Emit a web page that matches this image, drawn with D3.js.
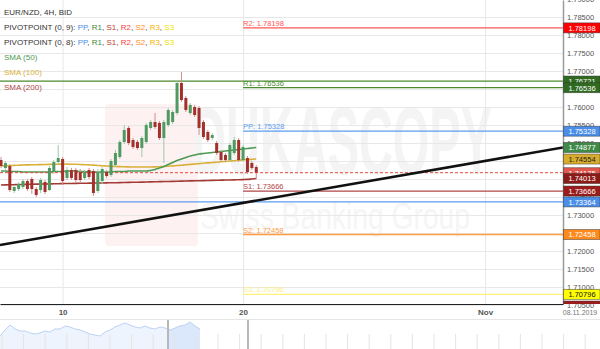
<!DOCTYPE html>
<html>
<head>
<meta charset="utf-8">
<script src="https://cdn.jsdelivr.net/npm/d3@7"></script>
<style>
  body { margin: 0; background: #fff; }
  svg { display: block; font-family: "Liberation Sans", Arial, sans-serif; }
</style>
</head>
<body>
<div id="chart"></div>
<script>
// EUR/NZD 4H candles (index 0 = first visible candle)
const opens  = [1.74528,1.74306,1.74361,1.73667,1.73722,1.73778,1.73944,1.74000,1.73722,1.73694,1.73917,1.73694,1.74194,1.74472,1.74556,1.74028,1.74250,1.74250,1.74194,1.74028,1.74250,1.74222,1.73667,1.73944,1.74194,1.74111,1.74389,1.74611,1.75028,1.75417,1.75083,1.75028,1.74861,1.75028,1.75417,1.75583,1.75556,1.75139,1.75500,1.75583,1.75833,1.76667,1.76250,1.75833,1.76000,1.75972,1.75583,1.75306,1.75139,1.75000,1.74750,1.74667,1.74528,1.74722,1.75083,1.74528,1.74583,1.74444,1.74333];
const highs  = [1.74611,1.74500,1.74417,1.73833,1.73917,1.74000,1.74000,1.74056,1.73778,1.74028,1.73972,1.74361,1.74528,1.74944,1.74611,1.74333,1.74306,1.74306,1.74278,1.74250,1.74306,1.74278,1.74278,1.74333,1.74250,1.74556,1.74806,1.75083,1.75500,1.75472,1.75139,1.75083,1.75194,1.75556,1.75639,1.75833,1.75611,1.75639,1.75972,1.75917,1.76722,1.76972,1.76306,1.76111,1.76056,1.76028,1.75639,1.75361,1.75278,1.75056,1.74806,1.74722,1.75000,1.75167,1.75139,1.74944,1.74639,1.74500,1.74389];
const lows   = [1.74306,1.74250,1.73639,1.73611,1.73667,1.73722,1.73667,1.73583,1.73500,1.73611,1.73583,1.73667,1.74139,1.74389,1.73861,1.73972,1.73972,1.73917,1.73917,1.73972,1.74000,1.73528,1.73611,1.73861,1.74028,1.74056,1.74333,1.74556,1.74972,1.74944,1.74833,1.74806,1.74611,1.74972,1.75361,1.75389,1.75083,1.74444,1.75444,1.75528,1.75778,1.76139,1.75861,1.75778,1.75722,1.75222,1.75111,1.75028,1.75083,1.74667,1.74472,1.74472,1.74472,1.74667,1.74472,1.74472,1.74139,1.74250,1.74000];
const closes = [1.74361,1.74444,1.73694,1.73778,1.73861,1.73944,1.73722,1.73722,1.73556,1.73972,1.73639,1.74306,1.74472,1.74583,1.73944,1.74250,1.74028,1.73972,1.73972,1.74194,1.74056,1.73611,1.74194,1.74278,1.74083,1.74500,1.74722,1.75028,1.75361,1.75000,1.74889,1.74861,1.75139,1.75500,1.75583,1.75444,1.75139,1.75583,1.75917,1.75861,1.76667,1.76194,1.75917,1.76056,1.75778,1.75417,1.75167,1.75083,1.75222,1.74722,1.74528,1.74528,1.74944,1.75083,1.74528,1.74889,1.74194,1.74306,1.74175];

const sma50  = [1.74222,1.74222,1.74208,1.74208,1.74208,1.74194,1.74194,1.74194,1.74194,1.74194,1.74194,1.74194,1.74208,1.74208,1.74208,1.74222,1.74222,1.74222,1.74208,1.74208,1.74194,1.74194,1.74194,1.74194,1.74194,1.74194,1.74208,1.74208,1.74208,1.74222,1.74222,1.74222,1.74222,1.74222,1.74236,1.74264,1.74306,1.74347,1.74403,1.74458,1.74514,1.74556,1.74597,1.74639,1.74667,1.74694,1.74708,1.74722,1.74736,1.74750,1.74764,1.74778,1.74792,1.74806,1.74819,1.74833,1.74847,1.74861,1.74877];
const sma100 = [1.74361,1.74367,1.74372,1.74378,1.74383,1.74389,1.74392,1.74394,1.74397,1.74400,1.74403,1.74406,1.74408,1.74411,1.74417,1.74414,1.74411,1.74408,1.74403,1.74397,1.74392,1.74386,1.74375,1.74369,1.74361,1.74356,1.74347,1.74344,1.74339,1.74336,1.74333,1.74333,1.74333,1.74333,1.74333,1.74336,1.74342,1.74347,1.74356,1.74364,1.74375,1.74383,1.74394,1.74406,1.74417,1.74428,1.74439,1.74447,1.74458,1.74467,1.74478,1.74489,1.74500,1.74508,1.74519,1.74528,1.74539,1.74547,1.74554];
const sma200 = [1.73833,1.73836,1.73839,1.73842,1.73845,1.73848,1.73851,1.73854,1.73857,1.73860,1.73862,1.73865,1.73867,1.73870,1.73872,1.73875,1.73877,1.73879,1.73881,1.73883,1.73885,1.73887,1.73889,1.73891,1.73893,1.73895,1.73897,1.73899,1.73902,1.73905,1.73908,1.73911,1.73914,1.73917,1.73920,1.73923,1.73926,1.73929,1.73932,1.73935,1.73938,1.73941,1.73944,1.73947,1.73950,1.73953,1.73956,1.73959,1.73962,1.73965,1.73968,1.73971,1.73974,1.73977,1.73980,1.73984,1.73990,1.74002,1.74013];

const yTicks = [1.705,1.71,1.715,1.72,1.725,1.73,1.735,1.74,1.745,1.75,1.755,1.76,1.765,1.77,1.775,1.78,1.785,1.79];
const xTickIdx = [14, 55, 110];
const xTickLabels = ["10", "20", "Nov"];
const lastDate = "08.11.2019";

// pivot point (0, 8): drawn from the start of the current period
const pivot8Start = 55;
const pivot8Names  = ["R2", "R1", "PP", "S1", "S2", "S3"];
const pivot8Values = [1.78198, 1.76536, 1.75328, 1.73666, 1.72458, 1.70796];
// pivot point (0, 9): levels on screen
const pivot9Names  = ["R1", "PP", "S1"];
const pivot9Values = [1.76721, 1.73364, 1.70472];

const lastPrice = 1.74175;
const trendIdx = [-0.23, 127.7];
const trendPrice = [1.72167, 1.74875];

// navigator (history overview)
const navValues = [1.73033,1.74433,1.75600,1.74667,1.74200,1.74200,1.73733,1.73500,1.73733,1.74200,1.73967,1.74667,1.74667,1.75367,1.75133,1.74667,1.74433,1.73967,1.73500,1.73267,1.73033,1.73967,1.74433,1.75133,1.75600,1.76067,1.75600,1.75133,1.74900,1.75367,1.74900,1.74667,1.75133,1.74900,1.74433,1.74900,1.75367,1.75600,1.76300,1.75367,1.74667];
const navWindow = [33.6, 49.6];

const lineCol = { PP: "#5b9cf2", R1: "#4b8a2e", S1: "#b04646", R2: "#ff5656", S2: "#ff9a45", R3: "#f5b800", S3: "#fff07a" };
const boxCol  = { PP: "#4a8ee8", R1: "#2f6a1f", S1: "#9c1c1c", R2: "#ff0000", S2: "#ff8a1c", S3: "#ffff00" };

const W = 600, H = 349;
const plotR = 563, plotB = 304;

const svg = d3.select("#chart").append("svg")
  .attr("width", W)
  .attr("height", H);

const defs = svg.append("defs");
defs.append("clipPath").attr("id", "plotClip")
  .append("rect").attr("x", 0).attr("y", 0).attr("width", plotR).attr("height", plotB);
defs.append("clipPath").attr("id", "axisClip")
  .append("rect").attr("x", plotR).attr("y", 0).attr("width", W - plotR).attr("height", plotB);

const x = d3.scaleLinear().domain([-0.23, 127.7]).range([0, plotR]);
const y = d3.scaleLinear().domain([1.70528, 1.78972]).range([plotB, 0]);

// watermark (very faint)
let wm = svg.append("g").attr("clip-path", "url(#plotClip)");
wm.append("rect")
  .attr("x", 105).attr("y", 104).attr("width", 93).attr("height", 142).attr("rx", 4)
  .attr("fill", "#fdf1f1");
wm.append("text")
  .attr("x", 192).attr("y", 174)
  .attr("font-size", 96).attr("font-weight", "bold")
  .attr("textLength", 300).attr("lengthAdjust", "spacingAndGlyphs")
  .attr("fill", "#f4f4f4")
  .text("DUKASCOPY");
wm.append("text")
  .attr("x", 200).attr("y", 229)
  .attr("font-size", 36)
  .attr("textLength", 270).attr("lengthAdjust", "spacingAndGlyphs")
  .attr("fill", "#f5f5f5")
  .text("Swiss Banking Group");

// grid
let gy = svg.append("g")
  .attr("transform", "translate(" + plotR + ",0)")
  .call(d3.axisLeft(y).tickValues(yTicks).tickSize(plotR).tickFormat(""));
gy.select(".domain").remove();
gy.selectAll("line").attr("stroke", "#e8e8e8");

let gx = svg.append("g")
  .attr("transform", "translate(0," + plotB + ")")
  .call(d3.axisBottom(x).tickValues(xTickIdx).tickSize(-plotB).tickFormat(""));
gx.select(".domain").remove();
gx.selectAll("line").attr("stroke", "#e8e8e8");

let plot = svg.append("g").attr("clip-path", "url(#plotClip)");

// pivot (0, 9) lines, full width
pivot9Values.forEach((v, i) => {
  plot.append("line")
    .attr("x1", 0).attr("x2", plotR)
    .attr("y1", y(v)).attr("y2", y(v))
    .attr("stroke", lineCol[pivot9Names[i]]).attr("stroke-width", 1.3);
});

// pivot (0, 8) lines with labels
pivot8Values.forEach((v, i) => {
  let n = pivot8Names[i];
  plot.append("line")
    .attr("x1", x(pivot8Start)).attr("x2", plotR)
    .attr("y1", y(v)).attr("y2", y(v))
    .attr("stroke", lineCol[n]).attr("stroke-width", 1.3);
  plot.append("text")
    .attr("x", x(pivot8Start)).attr("y", y(v) - 2)
    .attr("font-size", 7.5)
    .attr("fill", lineCol[n])
    .text(n + ": " + v.toFixed(5));
});

// moving averages
const smaLine = d3.line().x((d, i) => x(i)).y(d => y(d)).curve(d3.curveMonotoneX);
[[sma200, "#a33a34"], [sma100, "#d9b03a"], [sma50, "#4f9a52"]].forEach(s => {
  plot.append("path")
    .attr("d", smaLine(s[0]))
    .attr("fill", "none")
    .attr("stroke", s[1])
    .attr("stroke-width", 1.6);
});

// last price
plot.append("line")
  .attr("x1", 0).attr("x2", plotR)
  .attr("y1", y(lastPrice)).attr("y2", y(lastPrice))
  .attr("stroke", "#e24a40").attr("stroke-width", 1)
  .attr("stroke-dasharray", "3,2");

// candles
const candles = opens.map((o, i) => ({ i: i, o: o, h: highs[i], l: lows[i], c: closes[i] }));
let cg = plot.append("g");
cg.selectAll("line.wick")
  .data(candles)
  .enter()
  .append("line")
    .attr("class", "wick")
    .attr("x1", d => x(d.i)).attr("x2", d => x(d.i))
    .attr("y1", d => y(d.h)).attr("y2", d => y(d.l))
    .attr("stroke", d => d.c >= d.o ? "#9fc9a9" : "#cf8f8b")
    .attr("stroke-width", 1);
cg.selectAll("rect.body")
  .data(candles)
  .enter()
  .append("rect")
    .attr("class", "body")
    .attr("x", d => x(d.i) - 1.5)
    .attr("width", 3)
    .attr("y", d => y(Math.max(d.o, d.c)))
    .attr("height", d => Math.max(1, Math.abs(y(d.o) - y(d.c))))
    .attr("fill", d => d.c >= d.o ? "#4e9a60" : "#a3302b");

// trend line
plot.append("path")
  .attr("d", d3.line().x(d => x(d[0])).y(d => y(d[1]))(trendIdx.map((t, i) => [t, trendPrice[i]])))
  .attr("stroke", "#111")
  .attr("stroke-width", 2.6)
  .attr("fill", "none");

// right price axis
let ya = svg.append("g")
  .attr("transform", "translate(" + plotR + ",0)")
  .call(d3.axisRight(y).tickValues(yTicks).tickSize(0).tickPadding(4).tickFormat(d3.format(".5f")));
ya.select(".domain").attr("stroke", "#9a9a9a").attr("stroke-width", 1.5);
ya.selectAll("text").attr("font-size", 7.5).attr("fill", "#555").attr("font-family", "Liberation Sans, Arial, sans-serif");

// price boxes on the axis
const boxes = [
  [pivot8Values[0], boxCol.R2, "#fff"],
  [pivot9Values[0], boxCol.R1, "#fff"],
  [pivot8Values[1], boxCol.R1, "#fff"],
  [pivot8Values[2], boxCol.PP, "#fff"],
  [sma50[sma50.length - 1], "#3f8a47", "#fff"],
  [sma100[sma100.length - 1], "#d8ad2c", "#222"],
  [lastPrice, "#e2574d", "#fff"],
  [sma200[sma200.length - 1], "#8c1a16", "#fff"],
  [pivot8Values[3], boxCol.S1, "#fff"],
  [pivot9Values[1], boxCol.PP, "#fff"],
  [pivot8Values[4], boxCol.S2, "#fff"],
  [pivot9Values[2], boxCol.S1, "#fff"],
  [pivot8Values[5], boxCol.S3, "#111"]
];
let bg = svg.append("g").attr("clip-path", "url(#axisClip)");
boxes.forEach(b => {
  bg.append("rect")
    .attr("x", plotR + 0.5).attr("y", y(b[0]) - 5)
    .attr("width", 36.5).attr("height", 10)
    .attr("fill", b[1])
    .attr("stroke", "#333").attr("stroke-opacity", 0.6).attr("stroke-width", 0.8);
  bg.append("text")
    .attr("x", plotR + 19).attr("y", y(b[0]) + 2.8)
    .attr("text-anchor", "middle")
    .attr("font-size", 7.5)
    .attr("fill", b[2])
    .text(b[0].toFixed(5));
});

// bottom axis
let xa = svg.append("g")
  .attr("transform", "translate(0," + plotB + ")")
  .call(d3.axisBottom(x).tickValues(xTickIdx).tickSize(0).tickPadding(5).tickFormat((d, i) => xTickLabels[i]));
xa.select(".domain").attr("stroke", "#222").attr("stroke-width", 1.2);
xa.selectAll("text").attr("font-size", 8).attr("font-weight", "bold").attr("fill", "#555").attr("font-family", "Liberation Sans, Arial, sans-serif");

svg.append("text")
  .attr("x", 580).attr("y", 315)
  .attr("text-anchor", "middle")
  .attr("font-size", 7)
  .attr("fill", "#777")
  .text(lastDate);

// navigator
const navX = d3.scaleLinear().domain([0, 120]).range([0, W]);
const navY = d3.scaleLinear().domain([1.700, 1.770]).range([349, 319]);
let nav = svg.append("g");
nav.append("line")
  .attr("x1", 0).attr("x2", W).attr("y1", 319.5).attr("y2", 319.5)
  .attr("stroke", "#e6e6e6");
const navArea = d3.area().x((d, i) => navX(i)).y0(349).y1(d => navY(d));
nav.append("path")
  .attr("d", navArea(navValues))
  .attr("fill", "#eef4fd");
defs.append("clipPath").attr("id", "navClip")
  .append("rect").attr("x", navX(navWindow[0])).attr("y", 319).attr("width", navX(navWindow[1]) - navX(navWindow[0])).attr("height", 30);
nav.append("path")
  .attr("d", navArea(navValues))
  .attr("fill", "#dbe7fa")
  .attr("clip-path", "url(#navClip)");
nav.append("path")
  .attr("d", d3.line().x((d, i) => navX(i)).y(d => navY(d))(navValues))
  .attr("fill", "none")
  .attr("stroke", "#bcd2f4")
  .attr("stroke-width", 1);
nav.selectAll("line.ntick")
  .data(d3.range(0.4, 120, 4.32))
  .enter()
  .append("line")
    .attr("class", "ntick")
    .attr("x1", d => navX(d)).attr("x2", d => navX(d))
    .attr("y1", 334).attr("y2", 349)
    .attr("stroke", "#e4e4e4");
navWindow.forEach(w => {
  nav.append("line")
    .attr("x1", navX(w)).attr("x2", navX(w))
    .attr("y1", 320).attr("y2", 349)
    .attr("stroke", "#b8b8b8").attr("stroke-width", 2);
});

// legend
const legend = svg.append("g").attr("font-size", 8);
legend.append("text").attr("x", 4).attr("y", 15).attr("fill", "#333").text("EUR/NZD, 4H, BID");
const pivotLegend = [["PP", "#4a8ee8"], ["R1", "#3c8a3c"], ["S1", "#c0392b"], ["R2", "#ff3b3b"], ["S2", "#ff8c2a"], ["R3", "#f4b400"], ["S3", "#efe200"]];
["PIVOTPOINT (0, 9): ", "PIVOTPOINT (0, 8): "].forEach((t, k) => {
  let tx = legend.append("text").attr("x", 4).attr("y", 30 + k * 15);
  tx.append("tspan").attr("fill", "#333").text(t);
  pivotLegend.forEach((p, j) => {
    tx.append("tspan").attr("fill", p[1]).text(p[0]);
    if (j < pivotLegend.length - 1) tx.append("tspan").attr("fill", "#333").text(", ");
  });
});
[["SMA (50)", "#4f9a52"], ["SMA (100)", "#d9b03a"], ["SMA (200)", "#b04848"]].forEach((s, k) => {
  legend.append("text").attr("x", 4).attr("y", 60 + k * 15).attr("fill", s[1]).text(s[0]);
});
</script>
</body>
</html>
